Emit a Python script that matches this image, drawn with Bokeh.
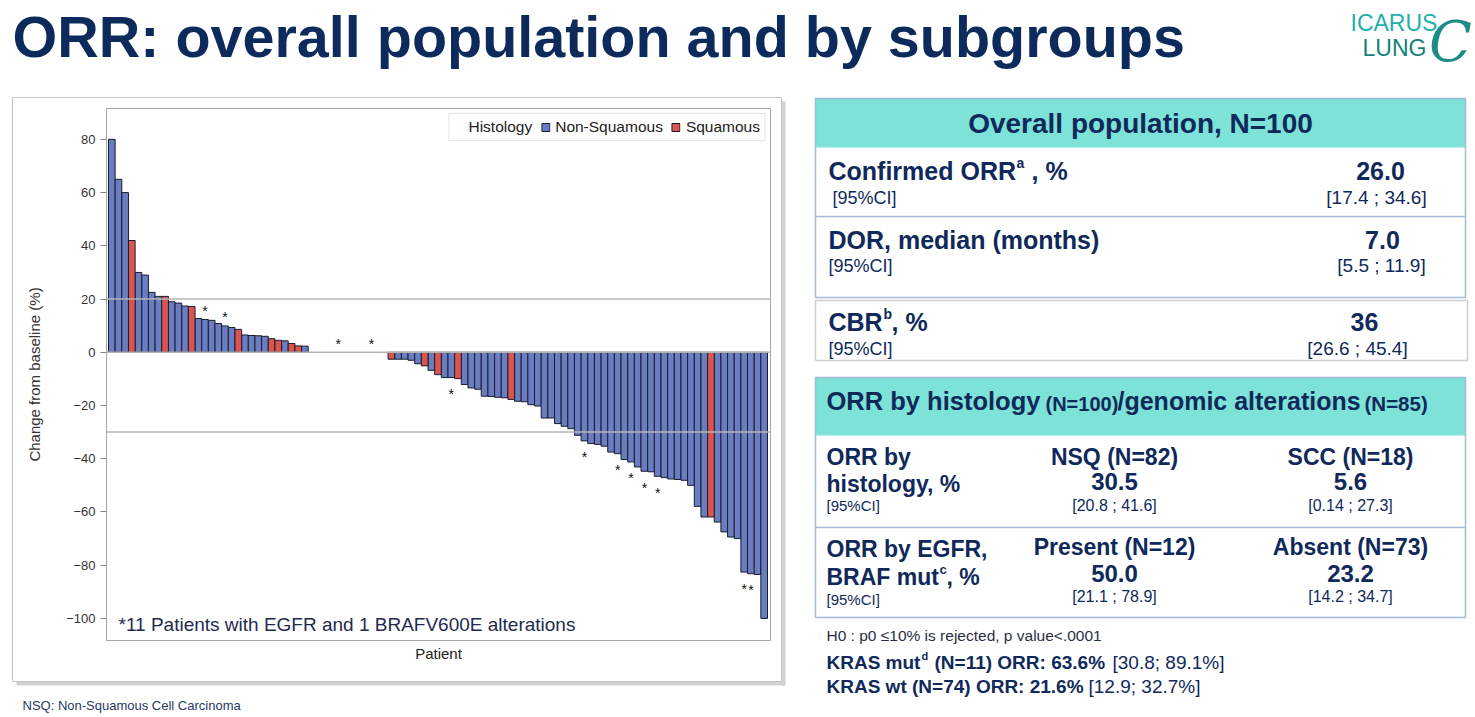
from bokeh.plotting import figure
from bokeh.models import (Label, Span, Legend, LegendItem, FixedTicker,
                          ColumnDataSource, Range1d, GridBox, Column)
from bokeh.embed import file_html
from bokeh.resources import INLINE
from bokeh.core.properties import value

# ---------------- data ----------------
positive_change = [80, 65, 60, 42, 30, 29, 22.5, 21, 21, 19, 18.5, 17.4, 17.2, 12.7, 12.3,
                   12, 10.8, 9.9, 9.3, 8.6, 6.5, 6.3, 6.2, 6, 5.1, 4.5, 4.3, 3.3, 2.4, 2.3]
zero_change = [0] * 12
negative_change = [-2.6, -2.6, -2.6, -3, -4.3, -5.1, -6.8, -8.4, -9.5, -9.5, -9.9, -12.1,
                   -13.4, -13.9, -16.5, -16.6, -16.9, -17.1, -17.7, -18.4, -18.6, -19.7,
                   -20.2, -24.7, -24.7, -26.8, -27.8, -28.7, -31.2, -33.3, -34.3, -34.6,
                   -35.3, -37.5, -38.1, -40.3, -41.2, -43.1, -44.7, -44.9, -46.6, -47.1,
                   -47.6, -47.8, -48.1, -50, -57.9, -61.9, -61.9, -63.8, -67.5, -69.4,
                   -70, -82.6, -83.2, -83.5, -100]
change = positive_change + zero_change + negative_change
patients = list(range(1, len(change) + 1))
squamous_patients = [4, 9, 13, 20, 25, 26, 28, 29, 43, 48, 50, 53, 61, 91]
egfr_braf_patients = [15, 18, 35, 40, 52, 72, 77, 79, 81, 83, 96, 97]
y_ticks = [-100, -80, -60, -40, -20, 0, 20, 40, 60, 80]
reference_lines = [20, -30]

# ---------------- styling ----------------
FONT = "Liberation Sans"
NAVY = "#10295B"
BLUE = "#6A7DC1"
RED = "#DB5550"
OUTLINE = "#1A1C2E"
TEAL = "#7DE2D7"
BOXLINE = "#A3B9DA"

W, H = 1474, 716
FL, FR, FT, FB = 106, 770, 108, 640   # chart frame edges on the page

# ---------------- waterfall chart (bottom layer) ----------------
p = figure(width=W, height=H, x_range=Range1d(0.2, 99.95), y_range=Range1d(-108.3, 91.6),
           output_backend="svg", toolbar_location=None,
           min_border_left=FL, min_border_right=W - FR, min_border_top=FT,
           min_border_bottom=H - FB)
p.background_fill_color = "white"
p.border_fill_color = "white"
p.outline_line_color = "#A6A6A6"
p.grid.visible = False

p.yaxis.ticker = FixedTicker(ticks=y_ticks)
p.yaxis.axis_label = "Change from baseline (%)"
p.yaxis.axis_label_text_font = FONT
p.yaxis.axis_label_text_font_size = "15px"
p.yaxis.axis_label_text_font_style = "normal"
p.yaxis.axis_label_text_color = "#333333"
p.yaxis.axis_label_standoff = 20
p.yaxis.major_label_text_font = FONT
p.yaxis.major_label_text_font_size = "13px"
p.yaxis.major_label_text_color = "#333333"
p.yaxis.major_tick_in = 0
p.yaxis.major_tick_out = 6
p.yaxis.major_tick_line_color = "#888888"
p.yaxis.minor_tick_line_color = None
p.yaxis.axis_line_color = "#A6A6A6"

p.xaxis.ticker = FixedTicker(ticks=[])
p.xaxis.major_label_text_font_size = "0px"
p.xaxis.major_tick_line_color = None
p.xaxis.minor_tick_line_color = None
p.xaxis.axis_line_color = None
p.xaxis.axis_label = "Patient"
p.xaxis.axis_label_text_font = FONT
p.xaxis.axis_label_text_font_size = "15px"
p.xaxis.axis_label_text_font_style = "normal"
p.xaxis.axis_label_text_color = "#222222"
p.xaxis.axis_label_standoff = 4

sq = set(squamous_patients)
nsq_x = [i for i, v in zip(patients, change) if i not in sq and v != 0]
nsq_y = [v for i, v in zip(patients, change) if i not in sq and v != 0]
sq_x = [i for i, v in zip(patients, change) if i in sq and v != 0]
sq_y = [v for i, v in zip(patients, change) if i in sq and v != 0]

r_dummy = p.vbar(x=[], top=[], width=1, fill_alpha=0, line_alpha=0)
r_nsq = p.vbar(x="x", top="top", bottom=0, width=1,
               source=ColumnDataSource(dict(x=nsq_x, top=nsq_y)),
               fill_color=BLUE, line_color=OUTLINE, line_width=1)
r_sq = p.vbar(x="x", top="top", bottom=0, width=1,
              source=ColumnDataSource(dict(x=sq_x, top=sq_y)),
              fill_color=RED, line_color=OUTLINE, line_width=1)

for v in [0] + reference_lines:
    p.add_layout(Span(location=v, dimension="width", line_color="#B4B4B4", line_width=1.5))

star_y = [change[i - 1] - 6.2 if change[i - 1] < 0 else change[i - 1] + 3.2
          for i in egfr_braf_patients]
p.text(x=egfr_braf_patients, y=star_y, text=["*"] * len(egfr_braf_patients),
       text_font=value(FONT), text_font_size="14px", text_align="center",
       text_baseline="alphabetic", text_color="#111111")

p.add_layout(Label(x=12, y=16, x_units="screen", y_units="screen",
                   text="*11 Patients with EGFR and 1 BRAFV600E alterations",
                   text_font=FONT, text_font_size="19px", text_color="#1E2A4F",
                   text_baseline="middle"))

legend = Legend(items=[LegendItem(label="Histology", renderers=[r_dummy]),
                       LegendItem(label="Non-Squamous", renderers=[r_nsq]),
                       LegendItem(label="Squamous", renderers=[r_sq])],
                orientation="horizontal", location="top_right", margin=5,
                padding=4, spacing=8, glyph_width=10, glyph_height=10, label_standoff=5,
                label_text_font=FONT, label_text_font_size="15.5px",
                label_text_color="#222222",
                border_line_color="#C8C8C8", background_fill_color="white",
                label_height=14)
p.add_layout(legend)

# ---------------- page elements on a transparent top layer (pixel coordinates) ----------------
bg = figure(width=W, height=H, x_range=Range1d(0, W), y_range=Range1d(H, 0),
            x_axis_type=None, y_axis_type=None, output_backend="svg", toolbar_location=None,
            min_border=0)
bg.outline_line_color = None
bg.background_fill_color = None
bg.background_fill_alpha = 0
bg.border_fill_color = None
bg.border_fill_alpha = 0
bg.grid.visible = False


def box(x0, y0, x1, y1, fill=None, line=None, lw=1):
    bg.quad(left=[x0], right=[x1], top=[y0], bottom=[y1],
            fill_color=fill if fill else "white", fill_alpha=1 if fill else 0,
            line_color=line if line else "white", line_alpha=1 if line else 0,
            line_width=lw)


def hline(x0, x1, y, color, lw=1.5):
    bg.segment(x0=[x0], y0=[y], x1=[x1], y1=[y], line_color=color, line_width=lw)


def txt(px, py, s, size, bold=False, color=NAVY, align="left", baseline="middle",
        font=FONT, italic=False):
    style = "bold" if bold else "normal"
    if italic:
        style = "bold italic" if bold else "italic"
    bg.text(x=[px], y=[py], text=[s], text_font=value(font), text_font_size=f"{size}px",
            text_font_style=style, text_color=color, text_align=align,
            text_baseline=baseline)


# chart outer box with shadow
box(781, 101, 785, 685, fill="#D2D2D2")
box(16, 681, 785, 685, fill="#D2D2D2")
box(12, 97, 781, 681, line="#C4C4C4")

# title
txt(12, 36, "ORR: overall population and by subgroups", 57.5, bold=True, color="#0C2A5C")

# logo
txt(1350, 22, "ICARUS", 23, color="#1EB0AA")
txt(1362, 47, "LUNG", 23, color="#167F79")
txt(1450, 41, "C", 56, color="#1D8C84", align="center", font="DejaVu Serif", italic=True)

# footer
txt(22, 705, "NSQ: Non-Squamous Cell Carcinoma", 13, color="#1F3864")

# table 1
box(815, 98, 1465, 147, fill=TEAL)
box(815, 98, 1465, 297, line=BOXLINE, lw=1.5)
hline(815, 1465, 216, BOXLINE)
txt(1140, 123, "Overall population, N=100", 28, bold=True, align="center")
txt(828, 170, "Confirmed ORR", 25, bold=True)
txt(1016, 162, "a", 14, bold=True)
txt(1031, 170, ", %", 25, bold=True)
txt(832, 197, "[95%CI]", 18)
txt(1380, 170, "26.0", 25, bold=True, align="center")
txt(1376, 197, "[17.4 ; 34.6]", 19, align="center")
txt(828, 239, "DOR, median (months)", 25, bold=True)
txt(828, 265, "[95%CI]", 18)
txt(1382, 239, "7.0", 25, bold=True, align="center")
txt(1381, 265, "[5.5 ; 11.9]", 19, align="center")

# CBR box
box(815, 300, 1467, 360, line="#CFCFCF", lw=1.5)
txt(828, 321, "CBR", 25, bold=True)
txt(883, 313, "b", 14, bold=True)
txt(891, 321, ", %", 25, bold=True)
txt(828, 348, "[95%CI]", 18)
txt(1364, 321, "36", 25, bold=True, align="center")
txt(1357, 348, "[26.6 ; 45.4]", 19, align="center")

# table 2
box(815, 377, 1465, 435, fill=TEAL)
box(815, 377, 1465, 617, line=BOXLINE, lw=1.5)
hline(815, 1465, 527, BOXLINE)
txt(826, 400, "ORR by histology", 25.5, bold=True)
txt(1045, 403, "(N=100)", 20, bold=True)
txt(1117, 400, "/genomic alterations", 25, bold=True)
txt(1364, 403, "(N=85)", 20.5, bold=True)

txt(826, 456, "ORR by", 23, bold=True)
txt(826, 483, "histology, %", 23, bold=True)
txt(826, 505, "[95%CI]", 15)
txt(1114, 456, "NSQ (N=82)", 23, bold=True, align="center")
txt(1114, 481, "30.5", 24, bold=True, align="center")
txt(1114, 505, "[20.8 ; 41.6]", 16, align="center")
txt(1350, 456, "SCC (N=18)", 23, bold=True, align="center")
txt(1350, 481, "5.6", 24, bold=True, align="center")
txt(1350, 505, "[0.14 ; 27.3]", 16, align="center")

txt(826, 548, "ORR by EGFR,", 23, bold=True)
txt(826, 576, "BRAF mut", 23, bold=True)
txt(939, 569, "c", 13, bold=True)
txt(946, 576, ", %", 23, bold=True)
txt(826, 599, "[95%CI]", 15)
txt(1114, 546, "Present (N=12)", 23, bold=True, align="center")
txt(1114, 573, "50.0", 24, bold=True, align="center")
txt(1114, 596, "[21.1 ; 78.9]", 16, align="center")
txt(1350, 546, "Absent (N=73)", 23, bold=True, align="center")
txt(1350, 573, "23.2", 24, bold=True, align="center")
txt(1350, 596, "[14.2 ; 34.7]", 16, align="center")

# notes under table
txt(826, 635, "H0 : p0 \u226410% is rejected, p value<.0001", 15.5, color="#2A2F45")
txt(826, 662, "KRAS mut", 19, bold=True)
txt(921, 655, "d", 11, bold=True)
txt(934, 662, "(N=11) ORR: 63.6%", 19, bold=True)
txt(1112, 662, "[30.8; 89.1%]", 19)
txt(826, 686, "KRAS wt (N=74) ORR: 21.6%", 19, bold=True)
txt(1088, 686, "[12.9; 32.7%]", 19)

layout = GridBox(children=[(Column(children=[p]), 0, 0), (Column(children=[bg]), 0, 0)])

open("out.html", "w").write(file_html(layout, INLINE))
